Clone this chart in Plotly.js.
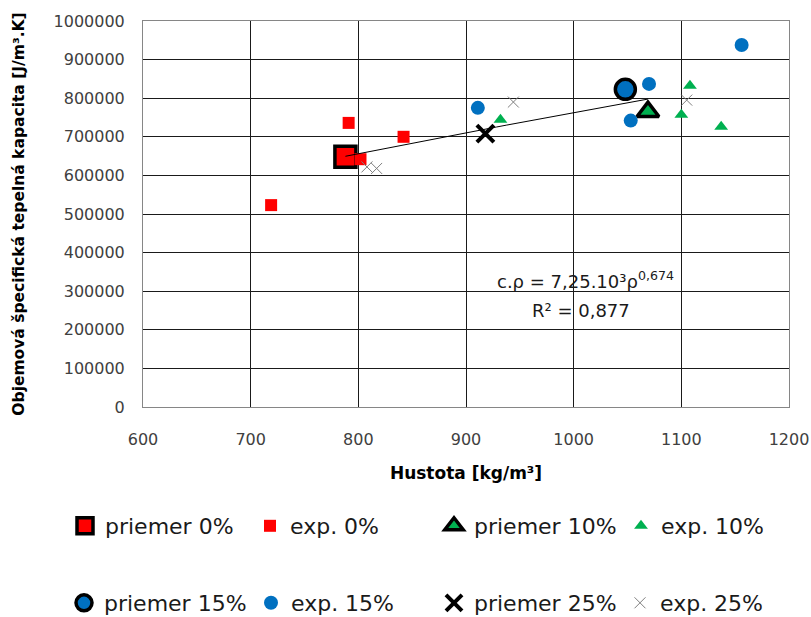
<!DOCTYPE html>
<html>
<head>
<meta charset="utf-8">
<script src="https://cdn.plot.ly/plotly-3.0.1.min.js"></script>
<style>html,body{margin:0;padding:0;background:#fff;}#chart{width:811px;height:617px;}</style>
</head>
<body>
<div id="chart"></div>
<script>
// ---- data ----
const priemer0X = [788];
const priemer0Y = [648000];
const exp0X = [719, 791, 842, 802];
const exp0Y = [523000, 736000, 700000, 642000];

const priemer10X = [1069];
const priemer10Y = [765000];
const exp10X = [932, 1108, 1100, 1137];
const exp10Y = [744000, 832000, 757000, 726000];

const priemer15X = [1048];
const priemer15Y = [823000];
const exp15X = [911, 1156, 1070, 1053];
const exp15Y = [775000, 938000, 837000, 742000];

const priemer25X = [918];
const priemer25Y = [708000];
const exp25X = [944, 808, 817, 1105];
const exp25Y = [790000, 622000, 618000, 795000];

// power trendline coefficients shown on the chart: c.rho = a * rho^b
const trendA = 7250;
const trendB = 0.674;

const seriesNames = ["priemer 0%", "exp. 0%", "priemer 10%", "exp. 10%",
                     "priemer 15%", "exp. 15%", "priemer 25%", "exp. 25%"];

// ---- trendline across the range of the average points ----
const avgX = [].concat(priemer0X, priemer10X, priemer15X, priemer25X);
const tMin = Math.min.apply(null, avgX), tMax = Math.max.apply(null, avgX);
const trendX = [], trendY = [];
const nT = 30;
for (let i = 0; i <= nT; i++) {
  const xv = tMin + (tMax - tMin) * i / nT;
  trendX.push(xv);
  trendY.push(trendA * Math.pow(xv, trendB));
}

const RED = '#FF0000', GREEN = '#00B050', BLUE = '#0070C0';

const traces = [
  {x: priemer0X, y: priemer0Y, name: seriesNames[0], legend: 'legend',
   marker: {symbol: 'square', size: 21, color: RED, line: {color: '#000', width: 3.5}}},
  {x: priemer10X, y: priemer10Y, name: seriesNames[2], legend: 'legend3',
   marker: {symbol: 'triangle-up', size: 19, color: GREEN, line: {color: '#000', width: 3.5}}},
  {x: priemer15X, y: priemer15Y, name: seriesNames[4], legend: 'legend5',
   marker: {symbol: 'circle', size: 20, color: BLUE, line: {color: '#000', width: 3.5}}},
  {x: priemer25X, y: priemer25Y, name: seriesNames[6], legend: 'legend7',
   marker: {symbol: 'x-thin', size: 17, color: '#000', line: {color: '#000', width: 4}}},
  {x: exp0X, y: exp0Y, name: seriesNames[1], legend: 'legend2',
   marker: {symbol: 'square', size: 12, color: RED, line: {width: 0}}},
  {x: exp10X, y: exp10Y, name: seriesNames[3], legend: 'legend4',
   marker: {symbol: 'triangle-up', size: 12, color: GREEN, line: {width: 0}}},
  {x: exp15X, y: exp15Y, name: seriesNames[5], legend: 'legend6',
   marker: {symbol: 'circle', size: 14, color: BLUE, line: {width: 0}}},
  {x: exp25X, y: exp25Y, name: seriesNames[7], legend: 'legend8',
   marker: {symbol: 'x-thin', size: 11, color: '#7F7F7F', line: {color: '#7F7F7F', width: 1}}}
].map(t => Object.assign({type: 'scatter', mode: 'markers', hoverinfo: 'x+y'}, t));

traces.push({type: 'scatter', mode: 'lines', x: trendX, y: trendY, showlegend: false,
  line: {color: '#000', width: 1}, hoverinfo: 'skip'});

// ---- layout ----
const L = 143, R = 22, T = 21, B = 210, W = 811, H = 617;
const pw = W - L - R, ph = H - T - B;

const legendFont = {family: 'DejaVu Sans', size: 22, color: '#1a1a1a'};
// symbol-centre pixel positions of each legend entry [x, y]
const legendSpots = [[85, 526], [270, 526], [454, 526], [641, 526],
                     [84, 603], [271, 603], [454, 603], [640, 603]];
const legendKeys = ['legend', 'legend2', 'legend3', 'legend4', 'legend5', 'legend6', 'legend7', 'legend8'];
const layout = {
  width: W, height: H,
  margin: {l: L, r: R, t: T, b: B, pad: 0, autoexpand: false},
  paper_bgcolor: '#fff', plot_bgcolor: '#fff',
  showlegend: true,
  font: {family: 'DejaVu Sans', color: '#404040'},
  xaxis: {
    range: [600, 1200], dtick: 100, tick0: 600,
    showgrid: true, gridcolor: '#1a1a1a', gridwidth: 1,
    zeroline: false, showline: true, linecolor: '#868686', linewidth: 1, mirror: true,
    ticks: '', ticklabelstandoff: 18,
    tickfont: {family: 'DejaVu Sans', size: 16, color: '#404040'},
    title: {text: 'Hustota [kg/m³]', standoff: 18,
            font: {family: 'DejaVu Sans', size: 17, color: '#000', weight: 'bold'}}
  },
  yaxis: {
    range: [0, 1000000], dtick: 100000, tick0: 0,
    showgrid: true, gridcolor: '#1a1a1a', gridwidth: 1,
    zeroline: false, showline: true, linecolor: '#868686', linewidth: 1, mirror: true,
    ticks: '', ticklabelstandoff: 14, tickformat: 'd',
    tickfont: {family: 'DejaVu Sans', size: 16, color: '#404040'},
    title: {text: 'Objemová špecifická tepelná kapacita [J/m³.K]', standoff: 25,
            font: {family: 'DejaVu Sans', size: 15.5, color: '#000', weight: 'bold'}}
  },
  annotations: [
    {xref: 'x', yref: 'y', x: 1011, y: 330000, showarrow: false, xanchor: 'center', yanchor: 'middle',
     text: 'c.ρ = 7,25.10³ρ<sup>0,674</sup>',
     font: {family: 'DejaVu Sans', size: 18, color: '#1a1a1a'}},
    {xref: 'x', yref: 'y', x: 1007, y: 251000, showarrow: false, xanchor: 'center', yanchor: 'middle',
     text: 'R² = 0,877',
     font: {family: 'DejaVu Sans', size: 18, color: '#1a1a1a'}}
  ]
};
legendKeys.forEach((k, i) => {
  layout[k] = {
    x: (legendSpots[i][0] - 20 - L) / pw, y: (H - B - legendSpots[i][1]) / ph,
    xanchor: 'left', yanchor: 'middle', xref: 'paper', yref: 'paper',
    orientation: 'v', bgcolor: 'rgba(0,0,0,0)', borderwidth: 0,
    font: legendFont, itemclick: false, itemdoubleclick: false
  };
});

Plotly.newPlot('chart', traces, layout, {displayModeBar: false, staticPlot: true});
</script>
</body>
</html>
